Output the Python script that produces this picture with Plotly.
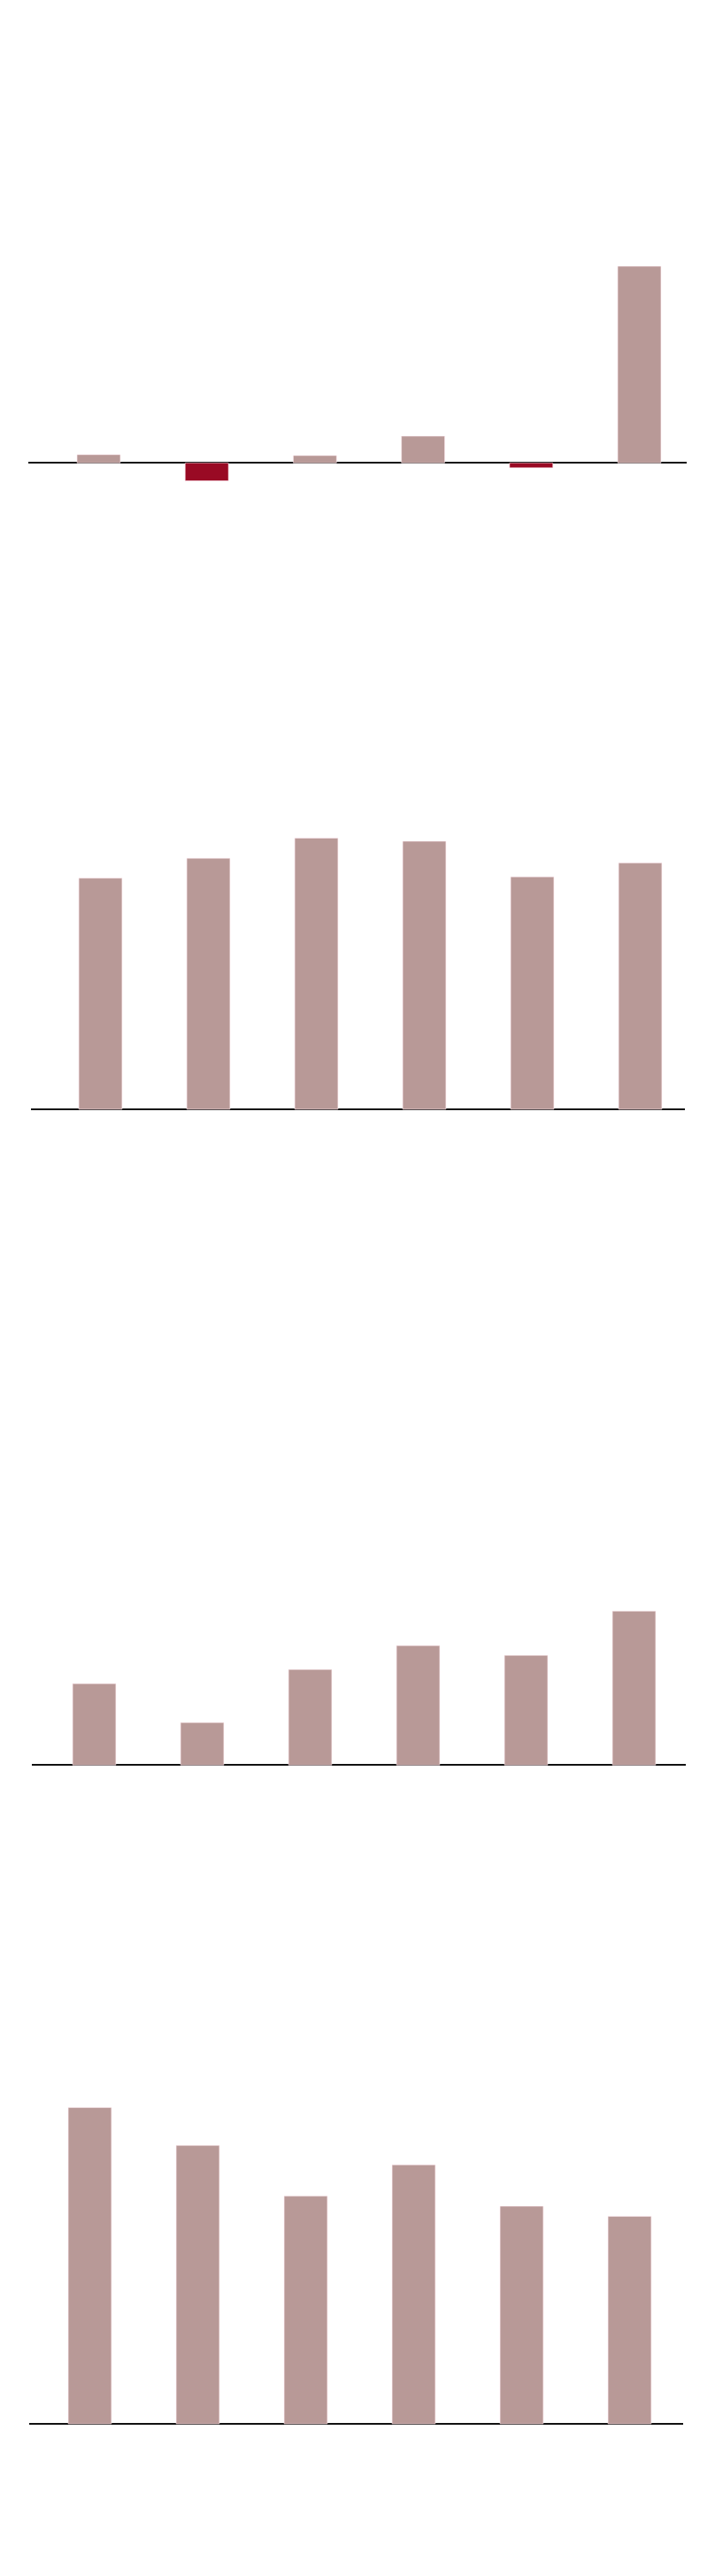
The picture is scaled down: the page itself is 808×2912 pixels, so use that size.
import plotly.graph_objects as go

# ---- data ----
categories = ["1", "2", "3", "4", "5", "6"]
chart1 = [2.1, -4.55, 1.87, 6.8, -1.24, 50.0]
chart2 = [87.1, 94.6, 102.2, 101.0, 87.6, 92.8]
chart3 = [9.2, 4.8, 10.8, 13.5, 12.4, 17.4]
chart4 = [119.2, 104.9, 85.8, 97.6, 82.0, 78.2]

POS_COLOR = "#b89997"
NEG_COLOR = "#990a24"
EDGE_COLOR = "rgba(255,232,238,0.9)"

OFF = 8  # page body margin in the browser
W, H = 808 - OFF, 2912 - OFF

# layout constants per panel (page pixels)
panels = [
    dict(values=chart1, base=523.3, scale=4.446, xl=32, xr=776, c0=111.5, dx=122.2, top=240, bot=580),
    dict(values=chart2, base=1254.0, scale=3.0, xl=35, xr=774, c0=113.5, dx=122.0, top=880, bot=1280),
    dict(values=chart3, base=1995.3, scale=10.0, xl=36, xr=775, c0=106.5, dx=122.0, top=1780, bot=2020),
    dict(values=chart4, base=2740.0, scale=3.0, xl=33, xr=771.5, c0=101.5, dx=122.0, top=2340, bot=2770),
]

fig = go.Figure()
layout = {}
for i, p in enumerate(panels, start=1):
    sfx = "" if i == 1 else str(i)
    colors = [POS_COLOR if v >= 0 else NEG_COLOR for v in p["values"]]
    fig.add_trace(go.Bar(
        x=categories, y=p["values"],
        marker=dict(color=colors, line=dict(color=EDGE_COLOR, width=0.6)),
        width=0.4,
        xaxis="x" + sfx, yaxis="y" + sfx,
        showlegend=False, hoverinfo="skip",
    ))
    x_lo = (p["xl"] - p["c0"]) / p["dx"]
    x_hi = (p["xr"] - p["c0"]) / p["dx"]
    y_hi = (p["base"] - p["top"]) / p["scale"]
    y_lo = (p["base"] - p["bot"]) / p["scale"]
    layout["xaxis" + sfx] = dict(
        domain=[(p["xl"] - OFF) / W, (p["xr"] - OFF) / W], range=[x_lo, x_hi],
        anchor="y" + sfx, showticklabels=False, showgrid=False,
        zeroline=False, showline=False, ticks="", type="category",
        fixedrange=True,
    )
    layout["yaxis" + sfx] = dict(
        domain=[1 - (p["bot"] - OFF) / H, 1 - (p["top"] - OFF) / H], range=[y_lo, y_hi],
        anchor="x" + sfx, showticklabels=False, showgrid=False,
        zeroline=True, zerolinecolor="#111111", zerolinewidth=2,
        showline=False, ticks="", fixedrange=True,
    )

fig.update_layout(
    width=W, height=H,
    margin=dict(l=0, r=0, t=0, b=0),
    paper_bgcolor="white", plot_bgcolor="white",
    bargap=0.6,
    **layout,
)

fig.write_html("out.html", config={"displayModeBar": False})
